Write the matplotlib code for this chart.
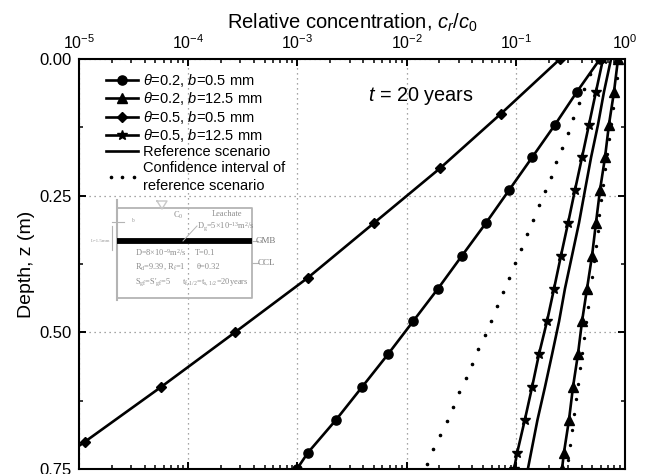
import matplotlib
matplotlib.use("Agg")
import matplotlib.pyplot as plt
from matplotlib.legend_handler import HandlerLine2D
from matplotlib.ticker import LogLocator, NullFormatter, MultipleLocator, FormatStrFormatter
import numpy as np

plt.rcParams["font.family"] = ["Liberation Sans", "DejaVu Sans"]
plt.rcParams["mathtext.fontset"] = "custom"
plt.rcParams["mathtext.rm"] = "Liberation Sans"
plt.rcParams["mathtext.it"] = "Liberation Sans:italic"
plt.rcParams["mathtext.default"] = "regular"

# depth of the marked curves (m)
depth_a = [0, .06, .12, .18, .24, .30, .36, .42, .48, .54, .60, .66, .72, .75]
depth_d = [0, .1, .2, .3, .4, .5, .6, .7, .8]
depth_lo = [.028, .055, .081, .108, .135, .162, .188, .215, .241, .267, .294, .320, .347, .374,
            .400, .426, .452, .479, .505, .531, .558, .584, .610, .636, .662, .688, .714, .740]
depth_up = [.006, .034, .062, .090, .118, .146, .174, .202, .230, .258, .286, .314, .342, .370,
            .398, .426, .454, .482, .510, .538, .566, .594, .622, .650, .678, .706, .734]

# relative concentration
circle = [.59, .363, .229, .141, .0867, .0533, .0321, .0194, .01145, .00676, .00391, .00226, .00125, .00099]
triangle = [.863, .793, .713, .656, .59, .542, .499, .449, .404, .371, .334, .307, .276, .265]
diamond = [.254, .0732, .0202, .00503, .00125, .000268, 5.64e-5, 1.135e-5, 2.2e-6]
star = [.629, .542, .468, .404, .348, .301, .259, .224, .193, .163, .141, .121, .103, .0964]
reference = [.745, .642, .566, .489, .430, .379, .327, .282, .249, .215, .185, .158, .138, .129]
ci_low = [.478, .424, .379, .336, .299, .265, .235, .209, .185, .163, .145, .127, .112, .0984,
          .0866, .0763, .0673, .0593, .0519, .0454, .0397, .0348, .0304, .0266, .0233, .0202, .0176, .0153]
ci_up = [.881, .845, .818, .776, .745, .714, .684, .656, .629, .603, .578, .560, .537, .515,
         .496, .475, .455, .437, .421, .404, .387, .373, .356, .341, .327, .313, .301]

fig = plt.figure(figsize=(6.48, 4.74), dpi=100)
ax = fig.add_axes([79 / 648, 1 - 469 / 474, 546 / 648, 410 / 474])

lw = 1.9
ax.plot(circle, depth_a, "k-", lw=lw, marker="o", ms=6.6, label=r"$\mathit{\theta}$=0.2, $\mathit{b}$=0.5 mm")
ax.plot(triangle, depth_a, "k-", lw=lw, marker="^", ms=7, label=r"$\mathit{\theta}$=0.2, $\mathit{b}$=12.5 mm")
ax.plot(diamond, depth_d, "k-", lw=lw, marker="D", ms=5.5, label=r"$\mathit{\theta}$=0.5, $\mathit{b}$=0.5 mm")
ax.plot(star, depth_a, "k-", lw=lw, marker="*", ms=7.5, label=r"$\mathit{\theta}$=0.5, $\mathit{b}$=12.5 mm")
ax.plot(reference, depth_a, "k-", lw=lw, label="Reference scenario")
ci, = ax.plot(ci_low, depth_lo, ls="none", marker="o", ms=1.6, color="k",
              label="Confidence interval of\nreference scenario")
ax.plot(ci_up, depth_up, ls="none", marker="o", ms=1.4, color="k")

ax.set_xscale("log")
ax.set_xlim(1e-5, 1)
ax.set_ylim(0.75, 0)
ax.xaxis.set_major_locator(LogLocator(base=10, numticks=7))
ax.xaxis.set_minor_locator(LogLocator(base=10, subs=np.arange(2, 10), numticks=12))
ax.xaxis.set_minor_formatter(NullFormatter())
ax.yaxis.set_major_locator(MultipleLocator(0.25))
ax.yaxis.set_minor_locator(MultipleLocator(0.125))
ax.yaxis.set_major_formatter(FormatStrFormatter("%.2f"))
ax.tick_params(which="major", direction="in", length=5, width=1.4, top=True, right=True,
               bottom=True, left=True, labeltop=True, labelbottom=False)
ax.tick_params(axis="x", which="major", labelsize=11.5, pad=5)
ax.tick_params(axis="y", which="major", labelsize=12, pad=5.5)
ax.tick_params(which="minor", direction="in", length=2.6, width=1.1, top=True, right=True,
               bottom=True, left=True)
ax.grid(True, which="major", color="#888888", ls=(0, (1, 3)), lw=0.9)
ax.set_axisbelow(True)
for s in ax.spines.values():
    s.set_linewidth(1.5)

ax.xaxis.set_label_position("top")
ax.set_xlabel(r"Relative concentration, $\mathit{c_r}$/$\mathit{c}_0$", fontsize=14.5, labelpad=3)
ax.set_ylabel("Depth, z (m)", fontsize=14, labelpad=3)

leg = ax.legend(loc="upper left", bbox_to_anchor=(0.05, 0.968), frameon=False, fontsize=10.5,
                handlelength=2.2, handletextpad=0.3, labelspacing=0.09, borderpad=0, borderaxespad=0,
                handler_map={ci: HandlerLine2D(numpoints=3)})
leg.get_texts()[5].set_linespacing(1.35)
ax.text(368 / 648, 1 - 96 / 474, r"$\mathit{t}$ = 20 years", transform=fig.transFigure,
        fontsize=14.3, va="center")

# inset sketch of the liner system, in pixel positions of the figure
ins = fig.add_axes([0, 0, 1, 1], facecolor="none")
ins.set_xlim(0, 648)
ins.set_ylim(474, 0)
ins.axis("off")
gray = "#b4b4b4"
ins.plot([117, 252, 252, 117, 117], [208, 208, 298, 298, 208], color=gray, lw=1.3)
ins.plot([117, 117], [200, 300], color=gray, lw=1.5)
ins.plot([117, 252], [241, 241], color="k", lw=4.2, solid_capstyle="butt")
ins.plot([112, 124], [222, 222], color=gray, lw=0.8)
ins.plot([112, 112], [226, 250], color=gray, lw=0.8)
ins.plot([157, 167, 162, 157], [201, 201, 209, 201], color="#c8c8c8", lw=1)
ins.plot([252, 258], [241, 241], color=gray, lw=0.8)
ins.plot([252, 258], [263, 263], color=gray, lw=0.8)
ins.plot([183, 197], [241, 226], color=gray, lw=0.7)

tf = dict(family="Liberation Serif", color="#8c8c8c", fontsize=6, va="center")
ins.text(173, 215, r"C$_0$", **tf)
ins.text(212, 214, "Leachate", **tf)
ins.text(197, 227, r"D$_g$=5×10$^{-13}$m$^2$/s", **tf)
ins.text(135, 253, r"D=8×10$^{-9}$m$^2$/s", **tf)
ins.text(195, 253, "T=0.1", **tf)
ins.text(135, 267, r"R$_d$=9.39, R$_f$=1", **tf)
ins.text(197, 267, "θ=0.32", **tf)
ins.text(135, 282, r"S$_{gf}$=S'$_{gf}$=5", **tf)
ins.text(182, 282, r"t$_{f,1/2}$=t$_{s,1/2}$=20years", **tf)
ins.text(91, 241, "L=1.5mm", family="Liberation Serif", color="#999999", fontsize=3.5, va="center")
ins.text(132, 220, "b", family="Liberation Serif", color="#999999", fontsize=4, va="center")
ins.text(256, 241, "GMB", family="Liberation Serif", color="#777777", fontsize=6.5, va="center")
ins.text(258, 263, "CCL", family="Liberation Serif", color="#777777", fontsize=6.5, va="center")

fig.savefig("out.png", dpi=100)
